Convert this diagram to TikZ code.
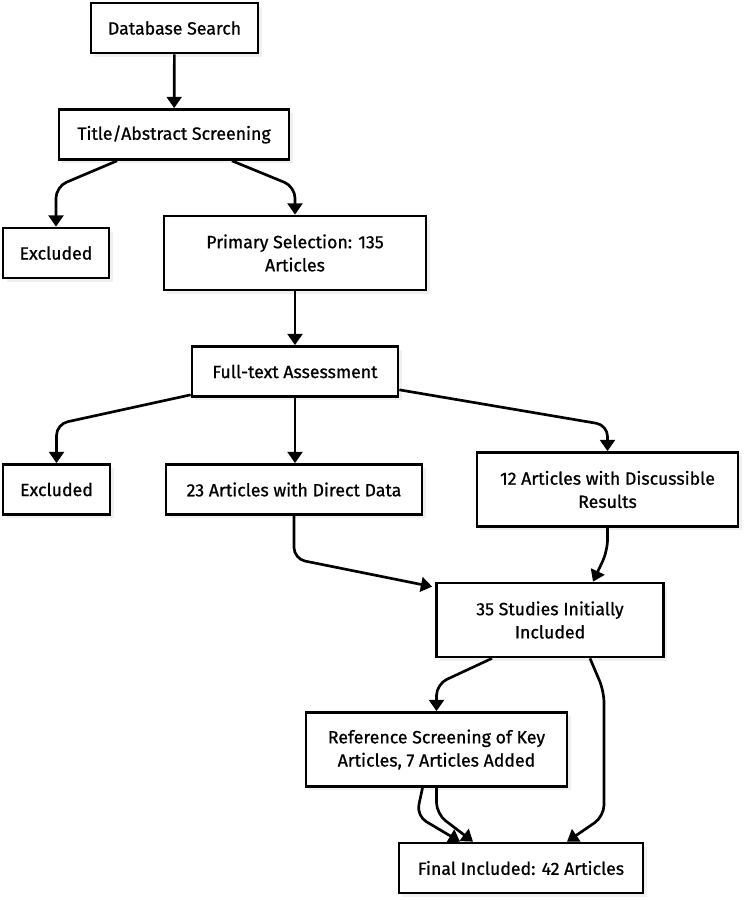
\documentclass[tikz,border=0pt]{standalone}
\usepackage{fontspec}
\setmainfont{Fira Sans}[FakeBold=0.8]
\usetikzlibrary{arrows.meta,calc,shadows}

\begin{document}
\begin{tikzpicture}[x=0.025cm, y=-0.025cm,
    stage/.style={draw, line width=1.9pt, fill=white, minimum height=1.25cm, align=center, font=\fontsize{12.6}{16.5}\selectfont,
        drop shadow={shadow xshift=2.5pt, shadow yshift=-2.5pt, opacity=0.12}},
    tall/.style={minimum height=1.85cm},
    arrow/.style={-{Triangle[width=10.5pt,length=8pt]}, line width=1.9pt, rounded corners=8pt}
]
\useasboundingbox (0,0) rectangle (744,900);

\node[stage, minimum width=4.175cm] (db) at (174.5,28) {Database Search};
\node[stage, minimum width=5.75cm] (tas) at (174,134.5) {Title/Abstract Screening};
\node[stage, minimum width=2.65cm] (ex1) at (56,253) {Excluded};
\node[stage, tall, minimum width=6.55cm] (psel) at (295,253) {Primary Selection: 135\\Articles};
\node[stage, minimum width=5.15cm] (fta) at (295,371.5) {Full-text Assessment};
\node[stage, minimum width=2.675cm] (ex2) at (56.5,489.5) {Excluded};
\node[stage, minimum width=6.4cm] (a23) at (294,489.5) {23 Articles with Direct Data};
\node[stage, tall, minimum width=6.525cm] (a12) at (607.5,489.5) {12 Articles with Discussible\\Results};
\node[stage, tall, minimum width=5.675cm] (s35) at (550,620) {35 Studies Initially\\Included};
\node[stage, tall, minimum width=6.525cm] (rsk) at (436.5,749.5) {Reference Screening of Key\\Articles, 7 Articles Added};
\node[stage, minimum width=6.1cm] (fin) at (521,868) {Final Included: 42 Articles};

% screening stage
\draw[arrow] (db) -- (tas);
\draw[arrow] ($(tas.south)+(-57,0)$) -- ($(ex1.north)+(0,-40)$) -- (ex1.north);
\draw[arrow] ($(tas.south)+(58,0)$) -- ($(psel.north)+(0,-28)$) -- (psel.north);
\draw[arrow] (psel) -- (fta);

% full-text stage
\draw[arrow] ($(fta.south west)+(0,-3)$) -- ($(ex2.north)+(0,-39)$) -- (ex2.north);
\draw[arrow] (fta.south) -- (fta.south |- a23.north);
\draw[arrow] ($(fta.south east)+(0,-8)$) -- ($(a12.north)+(0,-26)$) -- (a12.north);
\draw[arrow] (a23.south) -- ($(a23.south)+(0,43)$) -- ($(s35.north west)+(-3,5)$);
\draw[arrow] (a12.south) -- ($(a12.south)+(0,23)$) -- ($(s35.north)+(43,0)$);

% final counts
\draw[arrow] ($(s35.south)+(-58,0)$) -- ($(rsk.north)+(0,-27)$) -- (rsk.north);
\draw[arrow] ($(s35.south)+(40,0)$) -- ($(s35.south)+(54,33)$) -- ($(s35.south)+(54,158)$) -- ($(fin.north)+(46,0)$);
\draw[arrow] ($(rsk.south)+(-14,0)$) -- ($(rsk.south)+(-20,28)$) -- ($(fin.north)+(-61,0)$);
\draw[arrow] (rsk.south) -- ($(rsk.south)+(0,26)$) -- ($(fin.north)+(-48,0)$);
\end{tikzpicture}
\end{document}
